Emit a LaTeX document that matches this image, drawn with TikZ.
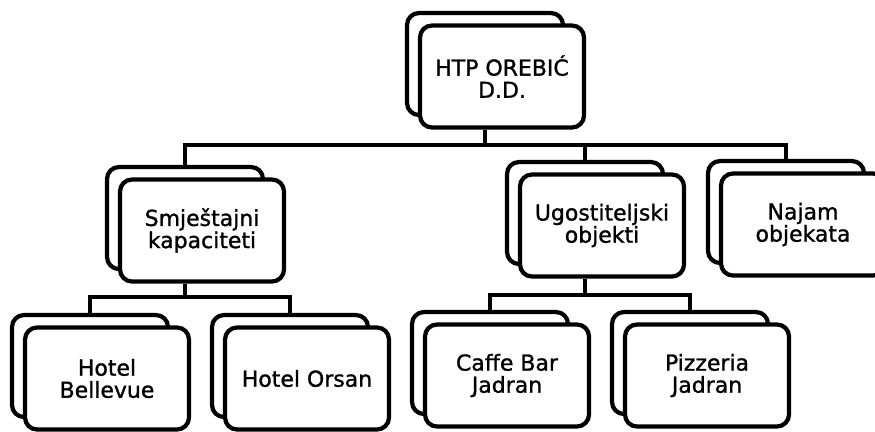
\documentclass[tikz,border=0pt]{standalone}
\usepackage{fontspec}
\newfontfamily\boxfont[FakeBold=1.2]{DejaVu Sans}
\usepackage{tikz}
\usetikzlibrary{calc}

\begin{document}
\begin{tikzpicture}[
	backbox/.style={draw,line width=2.4pt,rounded corners=0.24cm,fill=white,
		minimum width=3.12cm,minimum height=2.04cm},
	frontbox/.style={draw,line width=2.4pt,rounded corners=0.24cm,fill=white,
		minimum width=3.28cm,minimum height=2.04cm,align=center,
		font=\boxfont\fontsize{12.5}{12.6}\selectfont},
	conn/.style={line width=2pt}]
	\useasboundingbox (0,0) rectangle (17.5,-8.62);
	
	% bus lines
	\coordinate (bustop) at (0,-2.90);
	\coordinate (busleft) at (0,-5.94);
	\coordinate (busright) at (0,-5.90);
	
	% back boxes
	\node[backbox] (htpb) at (9.70,-1.28) {};
	\node[backbox] (smjb) at (3.70,-4.36) {};
	\node[backbox] (ugob) at (11.70,-4.26) {};
	\node[backbox] (najb) at (15.72,-4.24) {};
	\node[backbox] (belb) at (1.80,-7.32) {};
	\node[backbox] (orsb) at (5.80,-7.32) {};
	\node[backbox] (cafb) at (9.80,-7.26) {};
	\node[backbox] (pizb) at (13.80,-7.26) {};
	
	% front boxes
	\node[frontbox] (htpf) at ($(htpb)+(0.34,-0.25)$) {HTP OREBIĆ\\D.D.};
	\node[frontbox] (smjf) at ($(smjb)+(0.34,-0.25)$) {Smještajni\\kapaciteti};
	\node[frontbox] (ugof) at ($(ugob)+(0.34,-0.25)$) {Ugostiteljski\\objekti};
	\node[frontbox] (najf) at ($(najb)+(0.34,-0.25)$) {Najam\\objekata};
	\node[frontbox] (belf) at ($(belb)+(0.34,-0.25)$) {Hotel\\Bellevue};
	\node[frontbox] (orsf) at ($(orsb)+(0.34,-0.25)$) {Hotel Orsan};
	\node[frontbox] (caff) at ($(cafb)+(0.34,-0.25)$) {Caffe Bar\\Jadran};
	\node[frontbox] (pizf) at ($(pizb)+(0.34,-0.25)$) {Pizzeria\\Jadran};
	
	% connectors
	\foreach \c in {smjb,ugob,najb}{
		\draw[conn] (htpb |- htpf.south) |- (\c |- bustop) -- (\c.north);
	}
	\foreach \c in {belb,orsb}{
		\draw[conn] (smjb |- smjf.south) |- (\c |- busleft) -- (\c.north);
	}
	\foreach \c in {cafb,pizb}{
		\draw[conn] (ugob |- ugof.south) |- (\c |- busright) -- (\c.north);
	}
\end{tikzpicture}
\end{document}
